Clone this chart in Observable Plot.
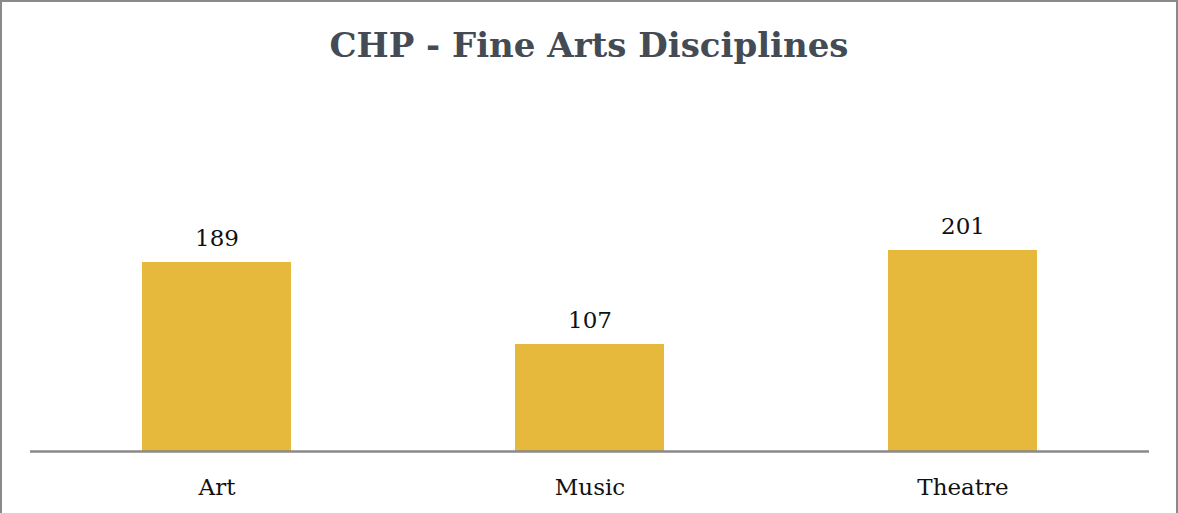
<!DOCTYPE html>
<html>
<head>
<meta charset="utf-8">
<script src="https://cdn.jsdelivr.net/npm/d3@7"></script>
<script src="https://cdn.jsdelivr.net/npm/@observablehq/plot@0.6"></script>
<style>
  html, body { margin: 0; padding: 0; background: #fff; overflow: hidden; }
  #wrap { position: relative; width: 1178px; height: 513px; }
  #frame { position: absolute; left: 0; top: 0; width: 1178px; height: 530px; box-sizing: border-box; border: 2px solid #8a8a8a; pointer-events: none; }
  #title { position: absolute; left: 0; top: 28px; width: 1178px; text-align: center;
    font-family: "DejaVu Serif", serif; font-weight: bold; font-size: 34px; color: #454b55; line-height: 1; }
  #chart { position: absolute; left: 0; top: 0; }
</style>
</head>
<body>
<div id="wrap">
  <div id="chart"></div>
  <div id="title">CHP - Fine Arts Disciplines</div>
  <div id="frame"></div>
</div>
<script>
const categories = ["Art", "Music", "Theatre"];
const values = [189, 107, 201];
const data = categories.map((c, i) => ({category: c, value: values[i]}));

const chart = Plot.plot({
  width: 1178,
  height: 513,
  marginLeft: 30,
  marginRight: 29,
  marginTop: 201,
  marginBottom: 62,
  style: { fontFamily: "DejaVu Serif, serif", fontSize: "23px", color: "#111", background: "transparent" },
  x: { domain: categories, paddingInner: 0.6, paddingOuter: 0.3, label: null, tickSize: 0, tickPadding: 27 },
  y: { domain: [0, 250], axis: null },
  marks: [
    Plot.barY(data, { x: "category", y: "value", fill: "#e6b93d" }),
    Plot.text(data, { x: "category", y: "value", text: d => String(d.value), lineAnchor: "bottom", dy: -17, fontSize: 23, fill: "#111" }),
    Plot.ruleY([0], { stroke: "#8a8a8a", strokeWidth: 2.5 })
  ]
});
document.getElementById("chart").appendChild(chart);
</script>
</body>
</html>
